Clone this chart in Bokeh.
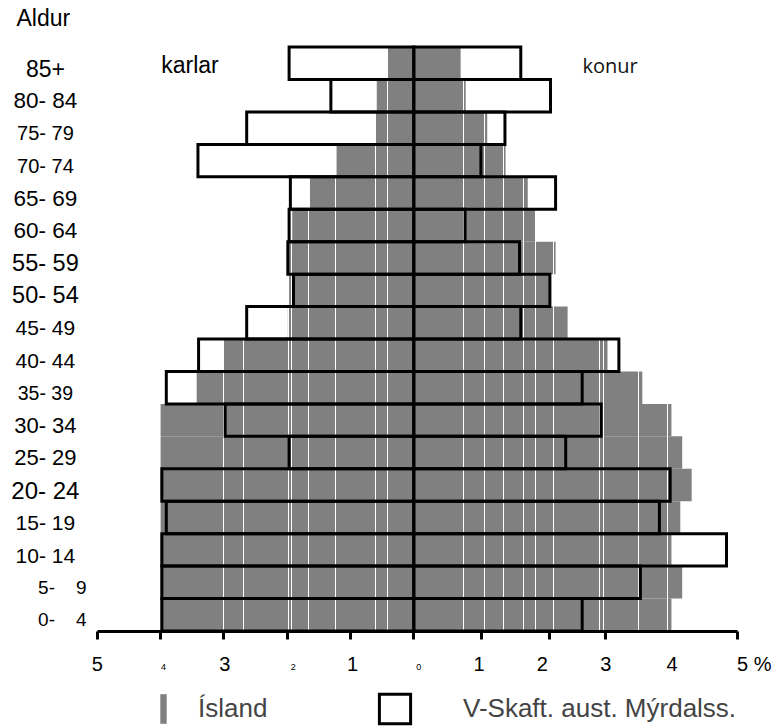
from bokeh.plotting import figure
from bokeh.models import (ColumnDataSource, LinearAxis, FixedTicker, Grid,
                          Legend, LegendItem, Range1d)
from bokeh.core.properties import value
from bokeh.embed import file_html
from bokeh.resources import INLINE

# ---------------- data (percent of population, youngest first) ----------------
age_groups = ["0-   4", "5-   9", "10- 14", "15- 19", "20- 24", "25- 29",
              "30- 34", "35- 39", "40- 44", "45- 49", "50- 54", "55- 59",
              "60- 64", "65- 69", "70- 74", "75- 79", "80- 84", "85+"]
island_karlar = [4.00, 4.00, 4.00, 4.00, 4.00, 4.00, 4.00, 3.43, 3.00,
                 1.99, 1.97, 1.99, 1.92, 1.64, 1.22, 0.60, 0.585, 0.415]
island_konur = [4.07, 4.24, 4.07, 4.21, 4.39, 4.24, 4.07, 3.61, 3.06,
                2.43, 2.16, 2.24, 1.93, 1.80, 1.45, 1.16, 0.82, 0.74]
vskaft_karlar = [3.98, 3.98, 3.98, 3.91, 3.98, 1.97, 2.98, 3.91, 3.40,
                 2.64, 1.90, 1.99, 1.97, 1.95, 3.41, 2.64, 1.31, 1.97]
vskaft_konur = [2.66, 3.58, 4.94, 3.88, 4.05, 2.40, 2.96, 2.66, 3.24,
                1.69, 2.15, 1.67, 0.81, 2.24, 1.06, 1.44, 2.16, 1.69]

x_tick_values = [-5, -4, -3, -2, -1, 0, 1.07, 2.15, 3.03, 5.11]
x_tick_label_values = [-5, -4, -3, -2, -1, 0, 1, 2, 3, 4, 5]
x_tick_labels = ["5", "4", "3", "2", "1", "0", "1", "2", "3", "4", "5 %"]

series_names = ["Ísland", "V-Skaft. aust. Mýrdalss."]
side_names = ["karlar", "konur"]
axis_title = "Aldur"

# ---------------- styles / layout ----------------
PX_X = 63.3    # pixels per percent
PX_Y = 32.44   # pixels per age group
GREY = "#808080"
FONT = "Liberation Sans"
W, H = 781, 728
X0_PX, Y0_PX = 413.3, 630.5   # canvas position of (0 %, bottom of 0-4 bar)
TEXT_UP = 8.5 / PX_Y          # baseline correction for text glyphs

age_label_font_px = [19, 19, 21, 21, 24, 22, 22, 19.5, 21, 21, 23.5, 23.5,
                     22.5, 22.5, 20, 20, 22.5, 23]
age_label_dx_px = [17, 17, 0, 0, 0, 0, 0, 0, 0, 0, 0, 0, 0, 0, 0, 0, 0, 0]
tick_label_font_px = [20, 9, 20, 9, 20, 9, 20, 20, 20, 20, 20]
tick_label_dx_px = [0, 3, 1, 6, 2, 5, 2, 2, 2, 5, 24]
seam_x = [-3.01, -2.69, -1.98, -1.93, -1.66, -1.24, -0.605, -0.42,
          0.78, 1.11, 1.41, 1.74, 1.92, 2.20, 2.94, 3.00, 3.55, 4.01]

n = len(age_groups)
idx = list(range(n))

p = figure(width=W, height=H, output_backend="svg", toolbar_location=None,
           x_axis_type=None, y_axis_type=None,
           x_range=Range1d(-X0_PX / PX_X, (W - X0_PX) / PX_X),
           y_range=Range1d(-(H - Y0_PX) / PX_Y, Y0_PX / PX_Y),
           min_border=0, outline_line_color=None, background_fill_color="white")

# Iceland (grey filled bars)
grey_src = ColumnDataSource(dict(
    left=[-v for v in island_karlar] + [0] * n,
    right=[0] * n + island_konur,
    bottom=idx + idx,
    top=[i + 1 for i in idx] * 2,
))
r_grey = p.quad(left="left", right="right", bottom="bottom", top="top",
                source=grey_src, fill_color=GREY, line_color=None, level="image")

# white seams across grey bars
seams = Grid(dimension=0, ticker=FixedTicker(ticks=seam_x),
             grid_line_color="white", grid_line_width=1, level="underlay")
p.add_layout(seams)

# V-Skaft. (outlined bars)
out_src = ColumnDataSource(dict(
    left=[-v for v in vskaft_karlar] + [0] * n,
    right=[0] * n + vskaft_konur,
    bottom=idx + idx,
    top=[i + 1 for i in idx] * 2,
))
r_out = p.quad(left="left", right="right", bottom="bottom", top="top",
               source=out_src, fill_color=None, line_color="black",
               line_width=3, line_join="miter")

# age labels
age_src = ColumnDataSource(dict(
    x=[-5.82 + d / PX_X for d in age_label_dx_px],
    y=[i + 0.5 - 13.6 / PX_Y + TEXT_UP for i in idx],
    text=[s.replace(" ", "\u00a0").replace("-\u00a0\u00a0\u00a0", "-\u00a0\u00a0\u00a0\u00a0") for s in age_groups],
    fs=[f"{v}px" for v in age_label_font_px],
))
p.text(x="x", y="y", text="text", text_font_size="fs", source=age_src,
       text_font=value(FONT), text_align="center", text_baseline="alphabetic",
       text_color="black")

# x axis
xaxis = LinearAxis(fixed_location=0, bounds=(-5, 5.11),
                   ticker=FixedTicker(ticks=x_tick_values),
                   axis_line_width=3, axis_line_color="black",
                   major_tick_line_width=3, major_tick_line_color="black",
                   major_tick_out=8, major_tick_in=0,
                   minor_tick_line_color=None,
                   major_label_text_color=None)
p.add_layout(xaxis, "below")

tick_src = ColumnDataSource(dict(
    x=[v + d / PX_X for v, d in zip(x_tick_label_values, tick_label_dx_px)],
    y=[(-41.2 if f > 10 else -44.5) / PX_Y + TEXT_UP for f in tick_label_font_px],
    text=x_tick_labels,
    fs=[f"{v}px" for v in tick_label_font_px],
))
p.text(x="x", y="y", text="text", text_font_size="fs", source=tick_src,
       text_font=value(FONT), text_align="center", text_baseline="alphabetic",
       text_color="black")

# titles
p.text(x=[-6.276], y=[18.63 + TEXT_UP], text=[axis_title], text_font=value(FONT),
       text_font_size="23px", text_baseline="alphabetic", text_color="black")
p.text(x=[-3.99], y=[17.18 + TEXT_UP], text=[side_names[0]], text_font=value(FONT),
       text_font_size="23px", text_baseline="alphabetic", text_color="black")
p.text(x=[2.665], y=[17.18 + TEXT_UP], text=[side_names[1]], text_font=value("Open Sans"),
       text_font_size="20px", text_baseline="alphabetic", text_color="#111111")

# legends
common = dict(orientation="horizontal", padding=0, margin=0, spacing=0,
              border_line_color=None, background_fill_alpha=0,
              label_text_font=FONT, label_text_font_size="26px")
leg1 = Legend(items=[LegendItem(label=series_names[0], renderers=[r_grey])],
              location=(159, 1), glyph_width=8, glyph_height=37,
              label_standoff=31, **common)
leg2 = Legend(items=[LegendItem(label=series_names[1], renderers=[r_out])],
              location=(375, 1), glyph_width=39, glyph_height=37,
              label_standoff=49, **common)
p.add_layout(leg1)
p.add_layout(leg2)

open("out.html", "w").write(file_html(p, INLINE))
